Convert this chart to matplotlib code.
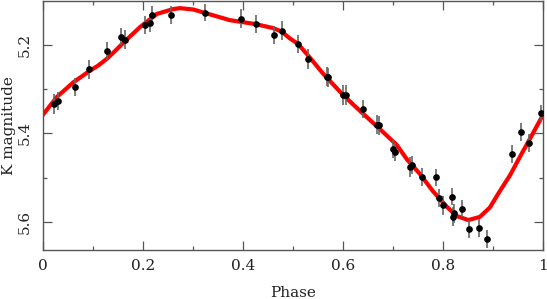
import numpy as np
import matplotlib
matplotlib.use('Agg')
import matplotlib.pyplot as plt
from matplotlib.ticker import MultipleLocator

# observed K-band points (phase, magnitude, error)
phase = [0.022, 0.029, 0.064, 0.092, 0.127, 0.155, 0.163, 0.204, 0.213, 0.217,
         0.255, 0.324, 0.396, 0.425, 0.462, 0.477, 0.509, 0.529, 0.567, 0.570,
         0.599, 0.605, 0.639, 0.668, 0.671, 0.700, 0.704, 0.733, 0.737, 0.757,
         0.785, 0.791, 0.799, 0.817, 0.819, 0.822, 0.838, 0.851, 0.871, 0.887,
         0.938, 0.956, 0.972, 0.995]
kmag = [5.334, 5.327, 5.296, 5.256, 5.214, 5.182, 5.189, 5.156, 5.152, 5.134,
        5.133, 5.128, 5.142, 5.154, 5.178, 5.169, 5.198, 5.233, 5.272, 5.274,
        5.313, 5.313, 5.345, 5.380, 5.382, 5.435, 5.442, 5.475, 5.471, 5.498,
        5.499, 5.545, 5.562, 5.542, 5.587, 5.580, 5.569, 5.616, 5.613, 5.637,
        5.447, 5.396, 5.421, 5.355]
kerr = [0.022, 0.020, 0.020, 0.021, 0.020, 0.020, 0.021, 0.021, 0.020, 0.021,
        0.020, 0.020, 0.021, 0.021, 0.020, 0.021, 0.020, 0.022, 0.021, 0.021,
        0.022, 0.022, 0.020, 0.021, 0.021, 0.020, 0.021, 0.022, 0.021, 0.021,
        0.020, 0.021, 0.021, 0.020, 0.021, 0.021, 0.020, 0.020, 0.020, 0.020,
        0.020, 0.020, 0.020, 0.020]

# fitted template
fit_phase = [0.000, 0.027, 0.060, 0.093, 0.110, 0.127, 0.143, 0.160, 0.193, 0.227,
             0.260, 0.273, 0.300, 0.324, 0.373, 0.425, 0.460, 0.477, 0.493, 0.509,
             0.530, 0.560, 0.600, 0.637, 0.673, 0.707, 0.727, 0.753, 0.780, 0.807,
             0.827, 0.850, 0.873, 0.893, 0.913, 0.933, 0.957, 0.967, 1.000]
fit_mag = [5.357, 5.318, 5.285, 5.259, 5.247, 5.232, 5.215, 5.196, 5.161, 5.131,
           5.120, 5.118, 5.121, 5.129, 5.145, 5.154, 5.163, 5.171, 5.186, 5.198,
           5.225, 5.266, 5.314, 5.353, 5.390, 5.426, 5.458, 5.491, 5.531, 5.565,
           5.586, 5.595, 5.588, 5.567, 5.530, 5.495, 5.445, 5.425, 5.357]

plt.rcParams['font.family'] = 'DejaVu Serif'

fig = plt.figure(figsize=(5.47, 2.99), dpi=100)
ax = fig.add_axes([0.0792, 0.163, 0.9140, 0.835])

ax.plot(fit_phase, fit_mag, color='#ff0000', lw=3, zorder=1, solid_joinstyle='round')
ax.errorbar(phase, kmag, yerr=kerr, fmt='o', color='black', ms=3.8,
            ecolor='#666666', elinewidth=1.2, capsize=0, zorder=3)

ax.set_xlim(0, 1)
ax.set_ylim(5.663, 5.101)
ax.xaxis.set_major_locator(MultipleLocator(0.2))
ax.xaxis.set_minor_locator(MultipleLocator(0.1))
ax.yaxis.set_major_locator(MultipleLocator(0.2))
ax.yaxis.set_minor_locator(MultipleLocator(0.1))
ax.set_xticks([0, 0.2, 0.4, 0.6, 0.8, 1.0])
ax.set_xticklabels(['0', '0.2', '0.4', '0.6', '0.8', '1'])
ax.set_yticks([5.2, 5.4, 5.6])
ax.set_yticklabels(['5.2', '5.4', '5.6'])

ax.tick_params(which='both', direction='in', top=True, right=True,
               color='#555555', labelsize=11, labelcolor='#222222')
ax.tick_params(which='major', length=6.5, width=0.9)
ax.tick_params(which='minor', length=3.2, width=0.9)
ax.tick_params(axis='x', pad=6)
ax.tick_params(axis='y', labelrotation=90, pad=8)
for lab in ax.get_yticklabels():
    lab.set_va('center')

for s in ax.spines.values():
    s.set_color('#555555')
    s.set_linewidth(1.0)

ax.set_xlabel('Phase', fontsize=11, color='#222222', labelpad=10)
ax.set_ylabel('K magnitude', fontsize=11, color='#222222')
ax.yaxis.set_label_coords(-0.082, 0.5)
ax.yaxis.label.set_va('top')

fig.savefig('out.png', dpi=100)
